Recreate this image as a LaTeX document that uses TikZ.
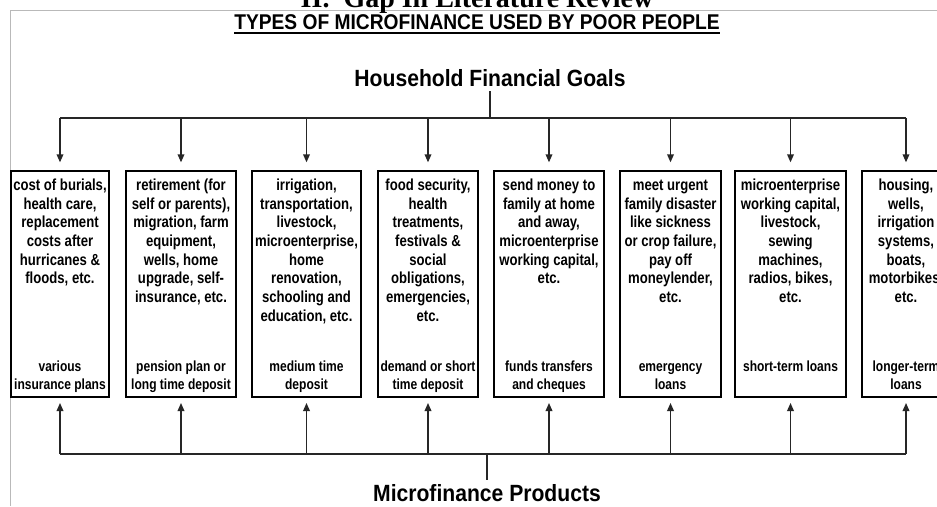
\documentclass[tikz,border=0pt]{standalone}
\usepackage{fontspec}
\setmainfont{Liberation Sans}[FakeStretch=0.82]
\newfontfamily\headfont{Liberation Sans}[FakeStretch=0.9]
\newfontfamily\pagefont{Liberation Serif}
\usetikzlibrary{positioning,arrows.meta}

\begin{document}
\begin{tikzpicture}[x=0.75pt, y=-0.75pt,
    goalbox/.style={draw=black, line width=1pt, minimum height=169.5pt, inner sep=0pt},
    goaltext/.style={anchor=north, align=center, inner xsep=0pt, inner ysep=6.25pt, font=\fontsize{12pt}{14pt}\selectfont\bfseries},
    prodtext/.style={anchor=north, align=center, inner sep=0pt, font=\fontsize{11pt}{13.5pt}\selectfont\bfseries},
    heading/.style={font=\headfont\fontsize{17.6pt}{20pt}\selectfont\bfseries},
    link/.style={black!85, line width=1pt},
    linkarrow/.style={link, -{Triangle[length=6pt,width=5pt]}}]
      \useasboundingbox (0,0) rectangle (937,506);
      \clip (0,0) rectangle (937,506);
      \fill[white] (0,0) rectangle (937,506);
      \draw[gray!55, line width=0.75pt] (937,11) -- (10,11) -- (10,506);

      \node[font=\pagefont\fontsize{21pt}{24pt}\selectfont\bfseries, anchor=base] (pagehead) at (477,8) {II.\ \ Gap In Literature Review};
      \node[font=\headfont\fontsize{16pt}{18pt}\selectfont\bfseries, inner sep=0pt] (title) at (477,22) {TYPES OF MICROFINANCE USED BY POOR PEOPLE};
      \draw[line width=1.5pt] ([yshift=-2.5pt]title.base west) -- ([yshift=-2.5pt]title.base east);

      \node[heading] (goals) at (490,78) {Household Financial Goals};
      \node[heading] (products) at (487,493) {Microfinance Products};
      \coordinate (topbus) at (490,118);
      \coordinate (botbus) at (487,454);

      \node[goalbox, minimum width=73.5pt] (b1) at (60,284) {};
      \node[goalbox, minimum width=82.5pt] (b2) at (181,284) {};
      \node[goalbox, minimum width=81.75pt] (b3) at (306.5,284) {};
      \node[goalbox, minimum width=75pt] (b4) at (428,284) {};
      \node[goalbox, minimum width=82.5pt] (b5) at (549,284) {};
      \node[goalbox, minimum width=75.75pt] (b6) at (670.5,284) {};
      \node[goalbox, minimum width=83.25pt] (b7) at (790.5,284) {};
      \node[goalbox, minimum width=66pt] (b8) at (906,284) {};

      \node[goaltext] (g1) at (b1.north) {cost of burials,\\health care,\\replacement\\costs after\\hurricanes \&\\floods, etc.};
      \node[goaltext] (g2) at (b2.north) {retirement (for\\self or parents),\\migration, farm\\equipment,\\wells, home\\upgrade, self-\\insurance, etc.};
      \node[goaltext] (g3) at (b3.north) {irrigation,\\transportation,\\livestock,\\microenterprise,\\home\\renovation,\\schooling and\\education, etc.};
      \node[goaltext] (g4) at (b4.north) {food security,\\health\\treatments,\\festivals \&\\social\\obligations,\\emergencies,\\etc.};
      \node[goaltext] (g5) at (b5.north) {send money to\\family at home\\and away,\\microenterprise\\working capital,\\etc.};
      \node[goaltext] (g6) at (b6.north) {\vphantom{l}meet urgent\\family disaster\\like sickness\\or crop failure,\\pay off\\moneylender,\\etc.};
      \node[goaltext] (g7) at (b7.north) {microenterprise\\working capital,\\livestock,\\sewing\\machines,\\radios, bikes,\\etc.};
      \node[goaltext] (g8) at (b8.north) {housing,\\wells,\\irrigation\\systems,\\boats,\\motorbikes,\\etc.};

      \node[prodtext] (p1) at ([yshift=27.5pt]b1.south) {various\\insurance plans};
      \node[prodtext] (p2) at ([yshift=27.5pt]b2.south) {pension plan or\\long time deposit};
      \node[prodtext] (p3) at ([yshift=27.5pt]b3.south) {medium time\\deposit};
      \node[prodtext] (p4) at ([yshift=27.5pt]b4.south) {demand or short\\time deposit};
      \node[prodtext] (p5) at ([yshift=27.5pt]b5.south) {funds transfers\\and cheques};
      \node[prodtext] (p6) at ([yshift=27.5pt]b6.south) {\vphantom{l}emergency\\loans};
      \node[prodtext] (p7) at ([yshift=27.5pt]b7.south) {short-term loans};
      \node[prodtext] (p8) at ([yshift=27.5pt]b8.south) {longer-term\\loans};

      \draw[link] (goals) -- (goals |- topbus);
      \draw[link] (b1.north |- topbus) -- (b8.north |- topbus);
      \foreach \i in {1,...,8}
        \draw[linkarrow, shorten >=6pt] (b\i.north |- topbus) -- (b\i.north);

      \draw[link] (products) -- (products |- botbus);
      \draw[link] (b1.south |- botbus) -- (b8.south |- botbus);
      \foreach \i in {1,...,8}
        \draw[linkarrow, shorten >=4pt] (b\i.south |- botbus) -- (b\i.south);
    \end{tikzpicture}
\end{document}
